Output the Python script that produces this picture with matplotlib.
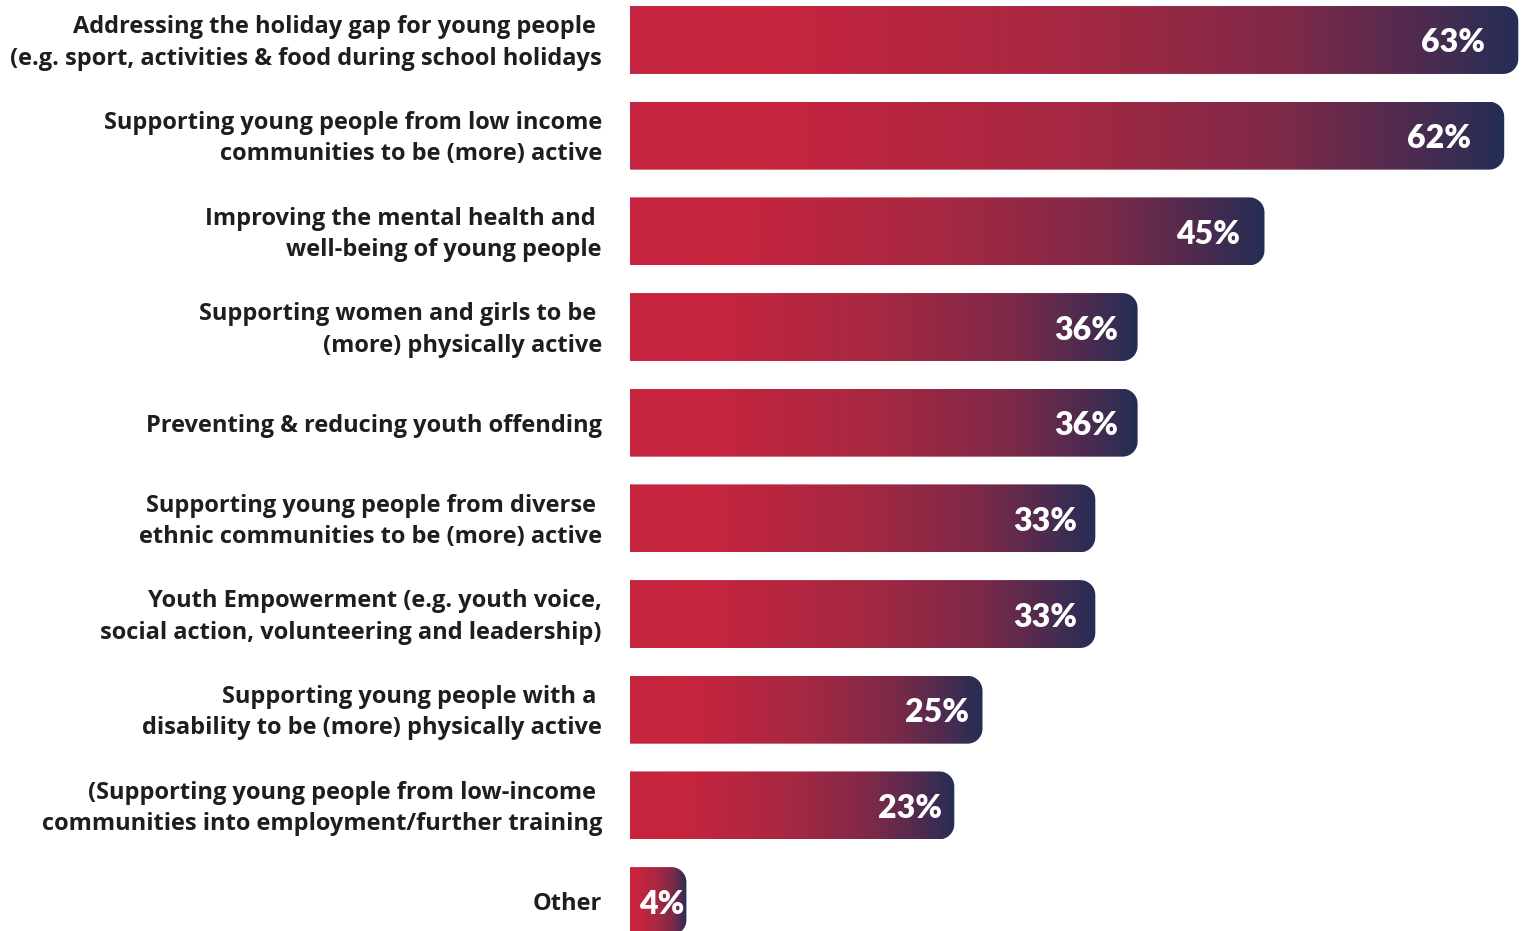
import matplotlib.pyplot as plt
import numpy as np
from matplotlib.colors import LinearSegmentedColormap
from matplotlib.path import Path
from matplotlib.patches import PathPatch

labels = [
    "Addressing the holiday gap for young people \n(e.g. sport, activities & food during school holidays",
    "Supporting young people from low income\ncommunities to be (more) active",
    "Improving the mental health and \nwell-being of young people",
    "Supporting women and girls to be \n(more) physically active",
    "Preventing & reducing youth offending",
    "Supporting young people from diverse \nethnic communities to be (more) active",
    "Youth Empowerment (e.g. youth voice,\nsocial action, volunteering and leadership)",
    "Supporting young people with a \ndisability to be (more) physically active",
    "(Supporting young people from low-income \ncommunities into employment/further training",
    "Other",
]
values = [63, 62, 45, 36, 36, 33, 33, 25, 23, 4]

grad = LinearSegmentedColormap.from_list(
    "redblue",
    [(0.0, "#c5243f"), (0.15, "#c8243e"), (0.5, "#a52842"),
     (0.75, "#7d2948"), (0.9, "#4c2b50"), (1.0, "#252e55")],
)

fig = plt.figure(figsize=(15.23, 9.31), dpi=100)
ax = fig.add_axes([630 / 1523, 0, 893 / 1523, 1])
ax.axis("off")

bar_h = 0.71
rx = 15 / 14.1
ry = 15 / 95.7


def rounded_right(x1, y0, y1):
    # rectangle with square left corners and rounded right corners
    t = np.linspace(0, np.pi / 2, 12)
    verts = [(0, y0), (x1 - rx, y0)]
    verts += [(x1 - rx + rx * np.sin(a), y0 + ry - ry * np.cos(a)) for a in t]
    verts += [(x1, y1 - ry)]
    verts += [(x1 - rx + rx * np.cos(a), y1 - ry + ry * np.sin(a)) for a in t]
    verts += [(0, y1), (0, y0)]
    codes = [Path.MOVETO] + [Path.LINETO] * (len(verts) - 2) + [Path.CLOSEPOLY]
    return Path(verts, codes)


gradient = np.linspace(0, 1, 256).reshape(1, -1)
for i, (lab, v) in enumerate(zip(labels, values)):
    y0, y1 = i - bar_h / 2, i + bar_h / 2
    patch = PathPatch(rounded_right(v, y0, y1), facecolor="none", edgecolor="none",
                      transform=ax.transData)
    ax.add_patch(patch)
    im = ax.imshow(gradient, cmap=grad, aspect="auto", extent=(0, v, y1, y0),
                   interpolation="bicubic")
    im.set_clip_path(patch)
    # value label ends just inside the bar end
    ax.annotate(f"{v}%", xy=(v * 0.962, i), xytext=(0, -3), textcoords="offset pixels",
                ha="right", va="center", color="white", fontsize=23,
                fontfamily="Lato", fontweight="heavy", annotation_clip=False)
    ax.annotate(lab, xy=(0, i), xytext=(-28, -3), textcoords="offset pixels",
                ha="right", va="center", multialignment="right", color="#1e1e1e",
                fontsize=17, fontfamily="Open Sans", fontweight="bold",
                linespacing=1.4, annotation_clip=False)

ax.set_xlim(0, 893 / 14.1)
ax.set_ylim(9.313, -0.418)
fig.savefig("out.png", dpi=100)
